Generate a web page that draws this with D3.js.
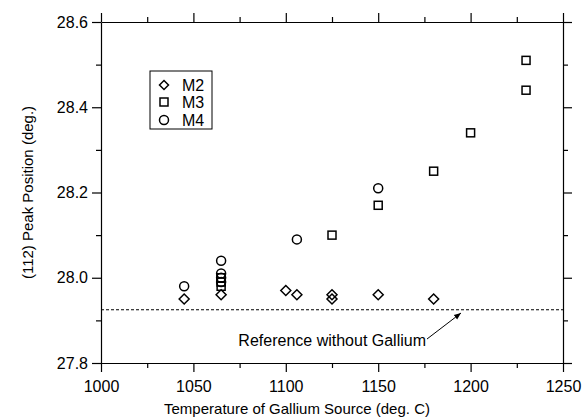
<!DOCTYPE html>
<html>
<head>
<meta charset="utf-8">
<script src="https://cdn.jsdelivr.net/npm/d3@7"></script>
<style>
  html, body { margin: 0; padding: 0; background: #fff; }
  svg { display: block; font-family: "Liberation Sans", Arial, sans-serif; }
</style>
</head>
<body>
<svg id="chart" width="583" height="419"></svg>
<script>
// ---- data ----
const m2Temp  = [1045, 1065, 1100, 1106, 1125, 1125, 1150, 1180];
const m2Peak  = [27.95, 27.96, 27.97, 27.96, 27.96, 27.95, 27.96, 27.95];
const m3Temp  = [1065, 1065, 1065, 1125, 1150, 1180, 1200, 1230, 1230];
const m3Peak  = [27.98, 27.99, 28.00, 28.10, 28.17, 28.25, 28.34, 28.44, 28.51];
const m4Temp  = [1045, 1065, 1065, 1065, 1065, 1106, 1150];
const m4Peak  = [27.98, 27.99, 28.00, 28.01, 28.04, 28.09, 28.21];
const referencePeak = 27.925;
const xTicks = [1000, 1050, 1100, 1150, 1200, 1250];
const yTicks = [27.8, 28.0, 28.2, 28.4, 28.6];
const seriesNames = ["M2", "M3", "M4"];

// ---- layout ----
const svg = d3.select("#chart");
const L = 101, R = 563, T = 22, B = 363;
const x = d3.scaleLinear().domain([1000, 1250]).range([L, R]);
const y = d3.scaleLinear().domain([27.8, 28.6]).range([B, T]);

const fsTick = 16, fsTitle = 15, fsText = 16;
const minorX = d3.range(1000, 1251, 25).filter(v => !xTicks.includes(v));
const minorY = d3.range(27.9, 28.6, 0.2).map(v => +v.toFixed(1));

function axisGroup(axisFn, scale, major, minor, transform, labels) {
  const g = svg.append("g").attr("transform", transform);
  g.call(axisFn(scale).tickValues(major).tickSize(9).tickSizeOuter(0)
    .tickFormat(labels ? (axisFn === d3.axisLeft ? d3.format(".1f") : d3.format("d")) : ""));
  g.call(gg => gg.selectAll(".tick text").attr("font-size", fsTick).attr("fill", "#000")
      .attr("font-family", "Liberation Sans, Arial, sans-serif"));
  const g2 = svg.append("g").attr("transform", transform);
  g2.call(axisFn(scale).tickValues(minor).tickSize(5).tickSizeOuter(0).tickFormat(""));
  g2.select(".domain").remove();
  [g, g2].forEach(a => a.selectAll("line, path").attr("stroke", "#000").attr("stroke-width", 1.2));
  return g;
}
const gb = axisGroup(d3.axisBottom, x, xTicks, minorX, `translate(0,${B})`, true);
gb.selectAll(".tick text").attr("dy", "0").attr("y", 28.5);
axisGroup(d3.axisTop, x, xTicks, minorX, `translate(0,${T})`, false);
const gl = axisGroup(d3.axisLeft, y, yTicks, minorY, `translate(${L},0)`, true);
gl.selectAll(".tick text").attr("x", -13);
axisGroup(d3.axisRight, y, yTicks, minorY, `translate(${R},0)`, false);

// axis titles
svg.append("text").attr("x", 297).attr("y", 414).attr("text-anchor", "middle")
  .attr("font-size", fsTitle).text("Temperature of Gallium Source (deg. C)");
svg.append("text").attr("transform", `translate(33,${(T + B) / 2}) rotate(-90)`)
  .attr("text-anchor", "middle").attr("font-size", fsTitle).text("(112) Peak Position (deg.)");

// reference line
svg.append("line").attr("x1", x(1000)).attr("x2", x(1250))
  .attr("y1", y(referencePeak)).attr("y2", y(referencePeak))
  .attr("stroke", "#000").attr("stroke-width", 1.1).attr("stroke-dasharray", "3,2");

// annotation
svg.append("defs").append("marker").attr("id", "arr").attr("viewBox", "0 0 10 10")
  .attr("refX", 10).attr("refY", 5).attr("markerWidth", 7).attr("markerHeight", 7)
  .attr("orient", "auto").attr("markerUnits", "userSpaceOnUse")
  .append("path").attr("d", "M0,1 L10,5 L0,9 Z").attr("fill", "#000");
svg.append("text").attr("x", 426).attr("y", 346).attr("text-anchor", "end")
  .attr("font-size", fsText).text("Reference without Gallium");
svg.append("line").attr("x1", 427).attr("y1", 339).attr("x2", 461).attr("y2", 313)
  .attr("stroke", "#000").attr("stroke-width", 1).attr("marker-end", "url(#arr)");

// markers
const sw = 1.5;
const diamond = (cx, cy, s = 5) => `M${cx},${cy - s}L${cx + s},${cy}L${cx},${cy + s}L${cx - s},${cy}Z`;
const pts = g => g.attr("fill", "none").attr("stroke", "#000").attr("stroke-width", sw);

svg.append("g").selectAll("path").data(m2Temp.map((t, i) => [t, m2Peak[i]])).join("path")
  .attr("d", d => diamond(x(d[0]), y(d[1]))).call(pts);
svg.append("g").selectAll("rect").data(m3Temp.map((t, i) => [t, m3Peak[i]])).join("rect")
  .attr("x", d => x(d[0]) - 4).attr("y", d => y(d[1]) - 4).attr("width", 8).attr("height", 8).call(pts);
svg.append("g").selectAll("circle").data(m4Temp.map((t, i) => [t, m4Peak[i]])).join("circle")
  .attr("cx", d => x(d[0])).attr("cy", d => y(d[1])).attr("r", 4.5).call(pts);

// legend
const lg = svg.append("g");
lg.append("rect").attr("x", 150).attr("y", 71).attr("width", 62).attr("height", 58)
  .attr("fill", "#fff").attr("stroke", "#000").attr("stroke-width", 1);
const rowY = [85, 102, 120];
seriesNames.forEach((n, i) => {
  const cy = rowY[i], cx = 164;
  if (i === 0) lg.append("path").attr("d", diamond(cx, cy, 4.5)).call(pts);
  if (i === 1) lg.append("rect").attr("x", cx - 4).attr("y", cy - 4).attr("width", 8).attr("height", 8).call(pts);
  if (i === 2) lg.append("circle").attr("cx", cx).attr("cy", cy).attr("r", 4.5).call(pts);
  lg.append("text").attr("x", 182).attr("y", cy + 6).attr("font-size", fsText).text(n);
});
</script>
</body>
</html>
